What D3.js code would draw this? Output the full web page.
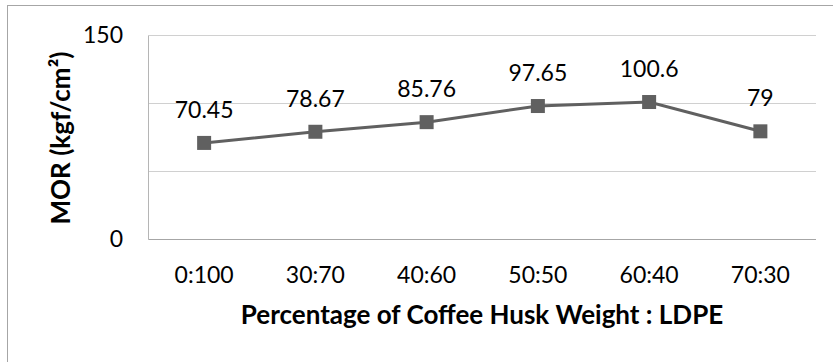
<!DOCTYPE html>
<html>
<head>
<meta charset="utf-8">
<script src="https://cdn.jsdelivr.net/npm/d3@7"></script>
<style>
  html, body { margin: 0; padding: 0; background: #fff; }
  svg { display: block; font-family: Lato, "Open Sans", sans-serif; }
</style>
</head>
<body>
<svg id="chart" width="833" height="362"></svg>
<script>
// Mix ratios (coffee husk : LDPE) and measured modulus of rupture
const categories = ["0:100", "30:70", "40:60", "50:50", "60:40", "70:30"];
const morValues = [70.45, 78.67, 85.76, 97.65, 100.6, 79];
const valueLabels = ["70.45", "78.67", "85.76", "97.65", "100.6", "79"];
const gridValues = [50, 100, 150];
const yTickLabels = [0, 150];

const svg = d3.select("#chart");
const plot = { left: 148.5, right: 816, top: 35, bottom: 238.5 };

// outer chart frame
svg.append("rect")
  .attr("x", 7.5).attr("y", 5.5)
  .attr("width", 840).attr("height", 370)
  .attr("fill", "none").attr("stroke", "#a6a6a6").attr("stroke-width", 1);

const x = d3.scaleBand().domain(categories).range([plot.left, plot.right]).padding(0);
const y = d3.scaleLinear().domain([0, 150]).range([plot.bottom, plot.top]);

// horizontal gridlines
svg.append("g").selectAll("line").data(gridValues).join("line")
  .attr("x1", plot.left).attr("x2", plot.right)
  .attr("y1", d => Math.round(y(d)) + 0.5).attr("y2", d => Math.round(y(d)) + 0.5)
  .attr("stroke", "#d0d0d0").attr("stroke-width", 1);

// left and bottom axis lines
svg.append("line")
  .attr("x1", plot.left).attr("x2", plot.left)
  .attr("y1", Math.round(y(150)) + 0.5).attr("y2", Math.round(y(0)) + 0.5)
  .attr("stroke", "#b5b5b5");
svg.append("line")
  .attr("x1", plot.left).attr("x2", plot.right)
  .attr("y1", Math.round(y(0)) + 0.5).attr("y2", Math.round(y(0)) + 0.5)
  .attr("stroke", "#a6a6a6");

// y tick labels
svg.append("g").selectAll("text").data(yTickLabels).join("text")
  .attr("x", 123).attr("y", d => y(d))
  .attr("dy", "0.36em")
  .attr("text-anchor", "end")
  .attr("font-size", 23).attr("fill", "#000")
  .text(d => d);

// x category labels
svg.append("g").selectAll("text").data(categories).join("text")
  .attr("x", d => x(d) + x.bandwidth() / 2).attr("y", 283)
  .attr("text-anchor", "middle")
  .attr("font-size", 23).attr("fill", "#000")
  .text(d => d);

// axis titles
svg.append("text")
  .attr("x", 482).attr("y", 324)
  .attr("text-anchor", "middle")
  .attr("font-size", 26).attr("font-weight", "bold").attr("fill", "#000")
  .text("Percentage of Coffee Husk Weight : LDPE");

svg.append("text")
  .attr("transform", "translate(70,138) rotate(-90)")
  .attr("text-anchor", "middle")
  .attr("font-size", 26).attr("font-weight", "bold").attr("fill", "#000")
  .text("MOR (kgf/cm²)");

const pts = categories.map((c, i) => ({ c, v: morValues[i], label: valueLabels[i] }));
const cx = d => x(d.c) + x.bandwidth() / 2;

// series line
svg.append("path")
  .datum(pts)
  .attr("fill", "none")
  .attr("stroke", "#606060").attr("stroke-width", 3)
  .attr("d", d3.line().x(cx).y(d => y(d.v)));

// square markers
const m = 14;
svg.append("g").selectAll("rect").data(pts).join("rect")
  .attr("x", d => cx(d) - m / 2).attr("y", d => y(d.v) - m / 2)
  .attr("width", m).attr("height", m)
  .attr("fill", "#606060");

// value labels
svg.append("g").selectAll("text").data(pts).join("text")
  .attr("x", cx).attr("y", d => y(d.v) - 25)
  .attr("text-anchor", "middle")
  .attr("font-size", 23).attr("fill", "#000")
  .text(d => d.label);
</script>
</body>
</html>
